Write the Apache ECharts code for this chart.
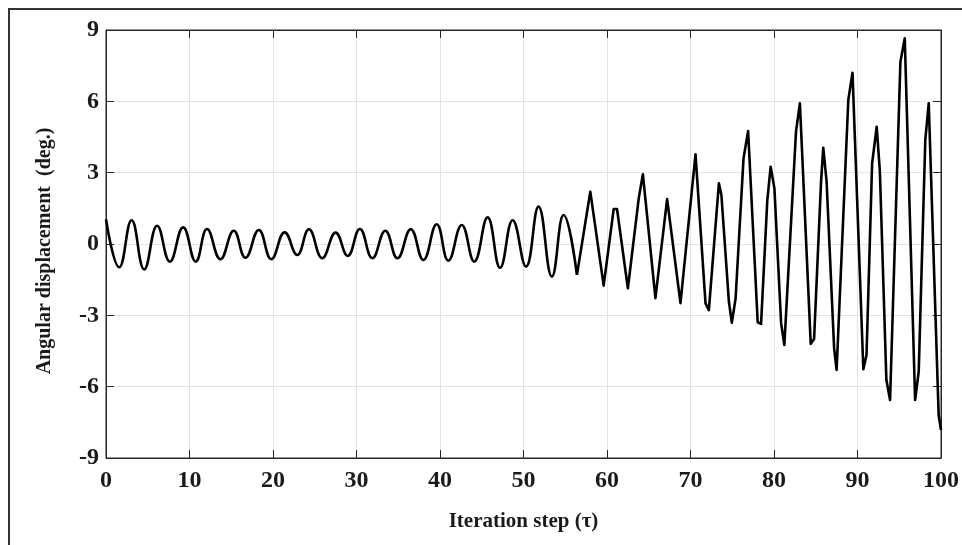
<!DOCTYPE html>
<html>
<head>
<meta charset="utf-8">
<script src="https://cdn.jsdelivr.net/npm/echarts@6/dist/echarts.min.js"></script>
<style>
html,body{margin:0;padding:0;background:#fff;}
#c{width:962px;height:545px;}
</style>
</head>
<body>
<div id="c"></div>
<script>
// Iteration step (x) and angular displacement in degrees (y)
const stepX = [
  0, 1.59, 3.07, 4.58, 6.13, 7.65, 9.24, 10.75, 12.1, 13.7,
  15.3, 16.7, 18.3, 19.8, 21.4, 22.9, 24.3, 25.9, 27.5, 28.95,
  30.4, 31.9, 33.45, 34.9, 36.5, 38.0, 39.6, 41.0, 42.6, 44.1,
  45.7, 47.2, 48.7, 50.3, 51.8, 53.4, 54.8, 56.4,
  58.0, 59.6, 60.8, 61.2, 62.5, 63.8, 64.3, 65.8, 67.2, 68.8,
  70.6, 71.8, 72.2, 73.4, 73.7, 74.6, 74.95, 75.4, 76.35, 76.9,
  78.05, 78.45, 79.2, 79.6, 80.05, 80.85, 81.24, 82.64, 83.1, 84.4,
  84.8, 85.63, 85.9, 86.3, 87.2, 87.5, 88.9, 89.4, 90.7, 91.08,
  91.75, 92.3, 92.68, 93.46, 93.9, 95.14, 95.66, 96.9, 97.33, 98.12,
  98.53, 99.72, 100
];
const dispY = [
  1.04, -0.98, 1.0, -1.07, 0.77, -0.74, 0.70, -0.74, 0.63, -0.64,
  0.56, -0.58, 0.59, -0.64, 0.49, -0.46, 0.62, -0.60, 0.48, -0.50,
  0.63, -0.60, 0.56, -0.60, 0.62, -0.67, 0.83, -0.70, 0.80, -0.74,
  1.12, -1.0, 1.0, -0.95, 1.57, -1.37, 1.22, -1.30,
  2.2, -1.75, 1.47, 1.47, -1.86, 1.92, 2.93, -2.28, 1.89, -2.49,
  3.77, -2.5, -2.78, 2.55, 2.06, -2.43, -3.31, -2.29, 3.6, 4.75,
  -3.29, -3.36, 1.85, 3.25, 2.34, -3.33, -4.25, 4.75, 5.92, -4.2,
  -4.0, 2.58, 4.05, 2.62, -4.39, -5.3, 6.06, 7.2, -5.27, -4.67,
  3.39, 4.93, 3.04, -5.72, -6.56, 7.67, 8.65, -6.56, -5.37, 4.37,
  5.92, -7.19, -7.82
];
const xTicks = {min: 0, max: 100, interval: 10};
const yTicks = {min: -9, max: 9, interval: 3};
const xTitle = 'Iteration step (\u03c4)';
const yTitle = 'Angular displacement  (deg.)';
const smoothUntil = 56.4;

const pts = stepX.map((x, i) => [x, dispY[i]]);
const early = pts.filter(p => p[0] <= smoothUntil);
const late = pts.filter(p => p[0] >= smoothUntil);

const FONT = '"Liberation Serif", "Times New Roman", serif';
const axisColor = '#262626';

const chart = echarts.init(document.getElementById('c'), null, {renderer: 'canvas'});
chart.setOption({
  animation: false,
  backgroundColor: '#fff',
  grid: {left: 106, right: 19, top: 30, bottom: 87, show: true, borderColor: axisColor, borderWidth: 1, backgroundColor: 'transparent'},
  graphic: [{
    type: 'rect', silent: true,
    shape: {x: 9, y: 9, width: 1200, height: 1200},
    style: {fill: 'none', stroke: '#333', lineWidth: 2}
  }],
  xAxis: [{
    type: 'value', min: xTicks.min, max: xTicks.max, interval: xTicks.interval,
    position: 'bottom',
    axisLine: {show: true, onZero: false, lineStyle: {color: axisColor, width: 1}},
    axisTick: {show: true, inside: true, length: 8, lineStyle: {color: axisColor}},
    axisLabel: {margin: 11, fontFamily: FONT, fontWeight: 'bold', fontSize: 24, color: '#1a1a1a'},
    splitLine: {show: true, lineStyle: {color: '#e3e3e3', width: 1}},
    name: xTitle, nameLocation: 'middle', nameGap: 53,
    nameTextStyle: {fontFamily: FONT, fontWeight: 'bold', fontSize: 21, color: '#1a1a1a'}
  }, {
    type: 'value', min: xTicks.min, max: xTicks.max, interval: xTicks.interval,
    position: 'top',
    axisLine: {show: true, onZero: false, lineStyle: {color: axisColor, width: 1}},
    axisTick: {show: true, inside: true, length: 8, lineStyle: {color: axisColor}},
    axisLabel: {show: false},
    splitLine: {show: false}
  }],
  yAxis: [{
    type: 'value', min: yTicks.min, max: yTicks.max, interval: yTicks.interval,
    position: 'left',
    axisLine: {show: true, onZero: false, lineStyle: {color: axisColor, width: 1}},
    axisTick: {show: true, inside: true, length: 8, lineStyle: {color: axisColor}},
    axisLabel: {margin: 7, fontFamily: FONT, fontWeight: 'bold', fontSize: 24, color: '#1a1a1a'},
    splitLine: {show: true, lineStyle: {color: '#e3e3e3', width: 1}},
    name: yTitle, nameLocation: 'middle', nameGap: 51, nameRotate: 90,
    nameTextStyle: {fontFamily: FONT, fontWeight: 'bold', fontSize: 20, color: '#1a1a1a', padding: [0, 14, 0, 0]}
  }, {
    type: 'value', min: yTicks.min, max: yTicks.max, interval: yTicks.interval,
    position: 'right',
    axisLine: {show: true, onZero: false, lineStyle: {color: axisColor, width: 1}},
    axisTick: {show: true, inside: true, length: 8, lineStyle: {color: axisColor}},
    axisLabel: {show: false},
    splitLine: {show: false}
  }],
  series: [{
    type: 'line', data: early, xAxisIndex: 0, yAxisIndex: 0,
    showSymbol: false, smooth: 0.45,
    lineStyle: {color: '#000', width: 2.6}
  }, {
    type: 'line', data: late, xAxisIndex: 0, yAxisIndex: 0,
    showSymbol: false, smooth: false,
    lineStyle: {color: '#000', width: 2.6, join: 'round'}
  }]
});
</script>
</body>
</html>
